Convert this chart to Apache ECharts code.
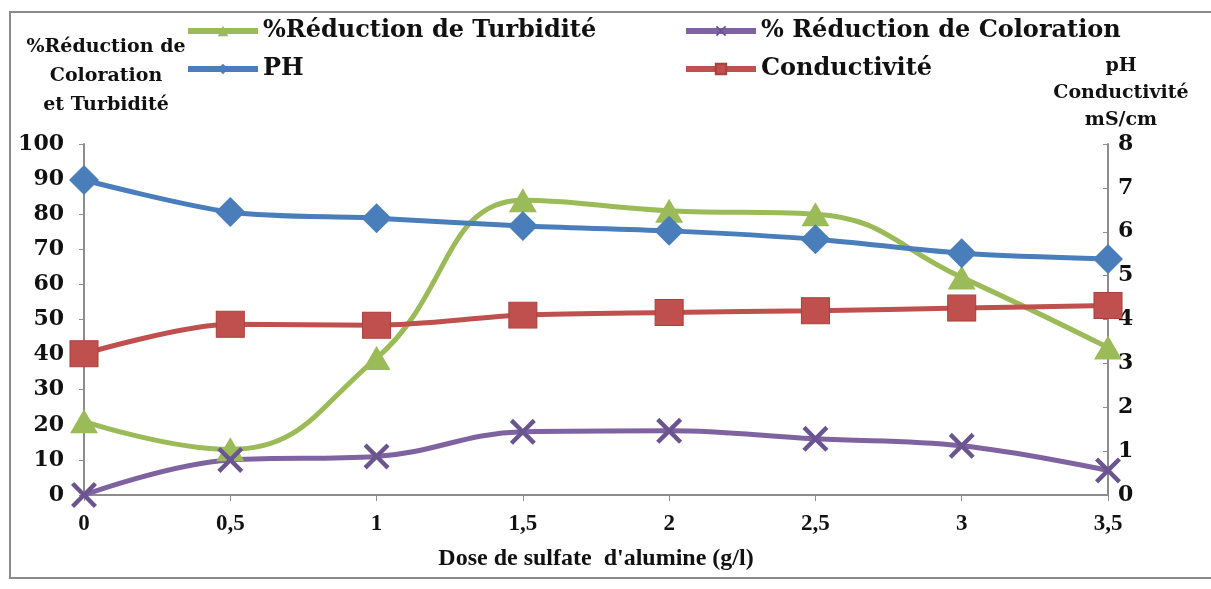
<!DOCTYPE html>
<html><head><meta charset="utf-8">
<script src="https://cdn.jsdelivr.net/npm/echarts@6/dist/echarts.min.js"></script>
<style>html,body{margin:0;padding:0;background:#fff}#c{width:1211px;height:589px}</style>
</head><body><div id="c"></div>
<script>
const doses = ['0','0,5','1','1,5','2','2,5','3','3,5'];
const turbidite = [21, 13, 39, 84, 81, 80, 62, 42];
const coloration = [0, 10, 11, 18, 18.3, 16, 14, 7];
const ph = [7.18, 6.45, 6.31, 6.13, 6.02, 5.83, 5.51, 5.38];
const conductivite = [3.22, 3.89, 3.87, 4.1, 4.16, 4.2, 4.26, 4.32];
const leftTicks = [0,10,20,30,40,50,60,70,80,90,100];
const rightTicks = [0,1,2,3,4,5,6,7,8];

const serif = '"DejaVu Serif", serif';
const xPath = 'path://M0,1.2L1.2,0L5,3.8L8.8,0L10,1.2L6.2,5L10,8.8L8.8,10L5,6.2L1.2,10L0,8.8L3.8,5Z';

const chart = echarts.init(document.getElementById('c'), null, {renderer:'canvas'});
const legendText = {fontFamily: serif, fontWeight:'bold', fontSize: 24, color:'#111'};
function lg(name, left, top){
  return {data:[name], left:left, top:top, itemWidth:70, itemHeight:13, itemGap:0,
    textStyle: legendText, selectedMode:false, padding:0, lineStyle:{width:6}};
}
chart.setOption({
  animation:false,
  backgroundColor:'#fff',
  graphic:[{type:'rect', shape:{x:10, y:12, width:1220, height:566}, style:{fill:'none', stroke:'#8a8a8a', lineWidth:2}, silent:true}],
  legend:[
    lg('%Réduction de Turbidité', 185, 19),
    lg('% Réduction de Coloration', 683, 19),
    lg('PH', 185, 57),
    lg('Conductivité', 683, 57)
  ],
  grid:{left:84, right:103, top:144, bottom:94, containLabel:false, outerBoundsMode:'none'},
  xAxis:{type:'category', data:doses, boundaryGap:false,
    name:'Dose de sulfate  d\'alumine (g/l)', nameLocation:'middle', nameGap:52,
    nameTextStyle:{fontFamily:'"Liberation Serif", serif', fontWeight:'bold', fontSize:24, color:'#111'},
    axisLine:{lineStyle:{color:'#8c8c8c', width:2}},
    axisTick:{alignWithLabel:true, length:6, lineStyle:{color:'#8c8c8c'}},
    axisLabel:{fontFamily:'"Liberation Serif", serif', fontWeight:'bold', fontSize:23, color:'#111', margin:18},
    splitLine:{show:false}},
  yAxis:[
    {type:'value', min:0, max:100, interval:10, position:'left',
     name:'%Réduction de\nColoration\net Turbidité', nameLocation:'end', nameGap:24,
     nameTextStyle:{fontFamily:serif, fontWeight:'bold', fontSize:19, color:'#111', lineHeight:29, align:'center', padding:[0,0,0,44]},
     axisLine:{show:true, lineStyle:{color:'#8c8c8c', width:2}},
     axisTick:{show:true, length:5, lineStyle:{color:'#8c8c8c'}},
     axisLabel:{fontFamily:serif, fontWeight:'bold', fontSize:22, color:'#111', margin:20,
       formatter:v=>leftTicks.includes(v)?String(v):''},
     splitLine:{show:false}},
    {type:'value', min:0, max:8, interval:1, position:'right',
     name:'pH\nConductivité\nmS/cm', nameLocation:'end', nameGap:6,
     nameTextStyle:{fontFamily:serif, fontWeight:'bold', fontSize:19, color:'#111', lineHeight:27, align:'center', padding:[0,0,0,26]},
     axisLine:{show:true, lineStyle:{color:'#8c8c8c', width:2}},
     axisTick:{show:true, inside:true, length:5, lineStyle:{color:'#8c8c8c'}},
     axisLabel:{fontFamily:serif, fontWeight:'bold', fontSize:22, color:'#111', margin:10,
       formatter:v=>rightTicks.includes(v)?String(v):''},
     splitLine:{show:false}}
  ],
  series:[
    {name:'%Réduction de Turbidité', type:'line', yAxisIndex:0, data:turbidite, smooth:0.45,
     symbol:'triangle', symbolSize:[28,24], color:'#9BBB59',
     lineStyle:{width:5, color:'#9BBB59'}, itemStyle:{color:'#9BBB59'}, z:3},
    {name:'% Réduction de Coloration', type:'line', yAxisIndex:0, data:coloration, smooth:0.4,
     symbol:xPath, symbolSize:26, color:'#7F63A1',
     lineStyle:{width:5, color:'#7F63A1'}, itemStyle:{color:'#6a5590'}, z:3},
    {name:'PH', type:'line', yAxisIndex:1, data:ph, smooth:0.3,
     symbol:'diamond', symbolSize:[30,30], color:'#4A7EBB',
     lineStyle:{width:5, color:'#4A7EBB'}, itemStyle:{color:'#4A7EBB'}, z:4},
    {name:'Conductivité', type:'line', yAxisIndex:1, data:conductivite, smooth:0.3,
     symbol:'rect', symbolSize:[28,26], color:'#C0504D',
     lineStyle:{width:5, color:'#C0504D'}, itemStyle:{color:'#C0504D', borderColor:'#a8403c', borderWidth:1}, z:4}
  ]
});
</script></body></html>
